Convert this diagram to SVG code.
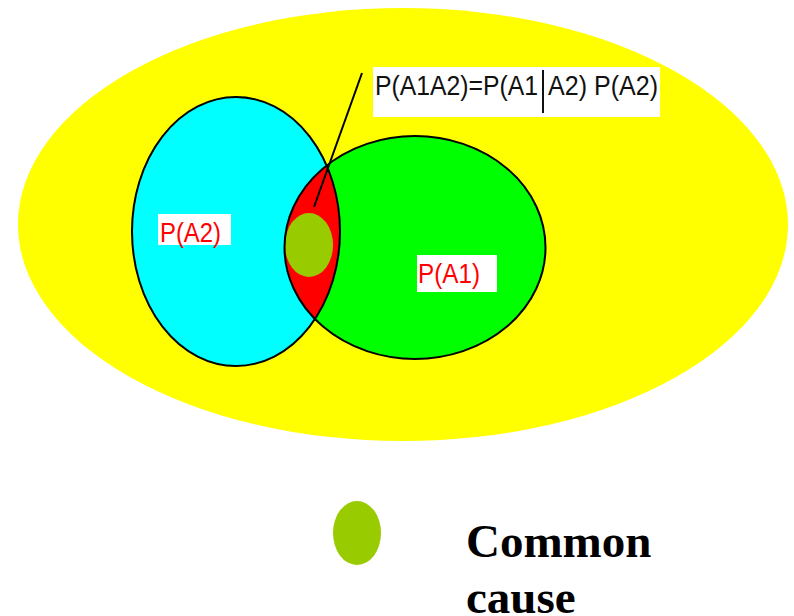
<svg xmlns="http://www.w3.org/2000/svg" width="794" height="616" viewBox="0 0 794 616">
  <style>
    .outline { fill: none; stroke: #000; stroke-width: 2; }
    .lbl { font-family: "Liberation Sans", Arial, sans-serif; font-size: 27px; }
    .red { fill: #ff0000; }
    .legend { font-family: "Liberation Serif", "Times New Roman", serif; font-size: 47px; font-weight: bold; fill: #000; }
  </style>
  <defs>
    <clipPath id="cyanClip">
      <ellipse cx="236" cy="231.5" rx="104" ry="134.5"/>
    </clipPath>
  </defs>
  <rect width="794" height="616" fill="#ffffff"/>
  <g id="universe">
    <ellipse cx="403" cy="224.5" rx="385" ry="216.5" fill="#ffff00"/>
  </g>
  <g id="setA2">
    <ellipse cx="236" cy="231.5" rx="104" ry="134.5" fill="#00ffff"/>
  </g>
  <g id="setA1">
    <ellipse cx="415" cy="247.5" rx="130.5" ry="111.5" fill="#00ff00"/>
  </g>
  <g id="intersection">
    <ellipse cx="415" cy="247.5" rx="130.5" ry="111.5" fill="#ff0000" clip-path="url(#cyanClip)"/>
  </g>
  <g id="commonCause">
    <ellipse cx="309" cy="245" rx="24" ry="32" fill="#99cc00"/>
  </g>
  <g id="outlines">
    <ellipse class="outline" cx="236" cy="231.5" rx="104" ry="134.5"/>
    <ellipse class="outline" cx="415" cy="247.5" rx="130.5" ry="111.5"/>
  </g>
  <g id="connectors">
    <line x1="362" y1="73" x2="314" y2="207" stroke="#000" stroke-width="2"/>
  </g>
  <g id="formulaLabel">
    <rect x="373" y="67" width="287" height="50" fill="#ffffff"/>
    <text class="lbl" x="375" y="95" fill="#111" textLength="163" lengthAdjust="spacingAndGlyphs">P(A1A2)=P(A1</text>
    <line x1="543" y1="70" x2="543" y2="113" stroke="#111" stroke-width="2"/>
    <text class="lbl" x="548" y="95" fill="#111" textLength="110" lengthAdjust="spacingAndGlyphs">A2) P(A2)</text>
  </g>
  <g id="labelA2">
    <rect x="158" y="214" width="73" height="31" fill="#ffffff"/>
    <text class="lbl red" x="160" y="242" textLength="61" lengthAdjust="spacingAndGlyphs">P(A2)</text>
  </g>
  <g id="labelA1">
    <rect x="417" y="255" width="80" height="37" fill="#ffffff"/>
    <text class="lbl red" x="418" y="283" textLength="62" lengthAdjust="spacingAndGlyphs">P(A1)</text>
  </g>
  <g id="legend">
    <ellipse cx="357" cy="533" rx="24" ry="32" fill="#99cc00"/>
    <text class="legend" x="466" y="557">Common</text>
    <text class="legend" x="466" y="613">cause</text>
  </g>
</svg>
